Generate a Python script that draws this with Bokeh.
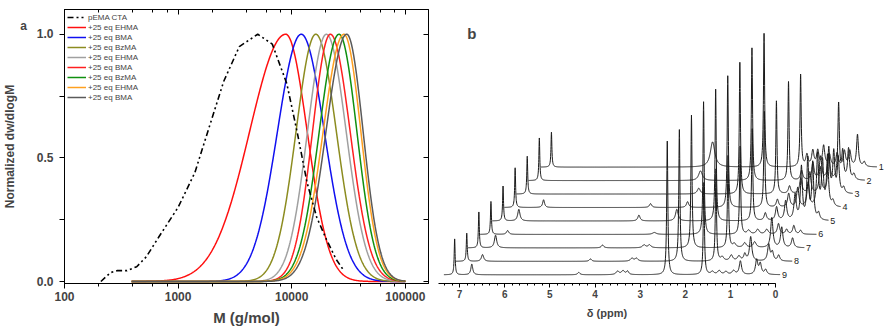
import numpy as np
from bokeh.plotting import figure
from bokeh.layouts import row
from bokeh.models import (Range1d, LogAxis, LinearAxis, FixedTicker, LogTicker,
                          SingleIntervalTicker, Legend, LegendItem, Label,
                          PrintfTickFormatter)
from bokeh.core.properties import value
from bokeh.embed import file_html
from bokeh.resources import INLINE

FONT = "Liberation Sans"
NBSP = "\u00a0"

# ---------------- (a) GPC traces ----------------
pema_label = "pEMA CTA"
pema_m = [209, 254, 292, 355, 432, 525, 676, 1000, 1403, 1807, 2523, 3459,
          5023, 6745, 9057, 11220, 13650, 16600, 20230, 24600, 28180]
pema_w = [0.0, 0.036, 0.044, 0.044, 0.06, 0.10, 0.18, 0.30, 0.44, 0.60, 0.81,
          0.95, 1.0, 0.96, 0.80, 0.60, 0.40, 0.26, 0.17, 0.09, 0.05]

block_labels = ["+25 eq EHMA", "+25 eq BMA", "+25 eq BzMA", "+25 eq EHMA",
                "+25 eq BMA", "+25 eq BzMA", "+25 eq EHMA", "+25 eq BMA"]
block_colors = ["#ff1010", "#1010f0", "#8c8c20", "#a0a0a0",
                "#ff2020", "#109010", "#ffa020", "#5a5a5a"]
block_peak_m = [8870, 12140, 16300, 20200, 21900, 26100, 28800, 30500]
block_hwhm_low = [0.375, 0.247, 0.205, 0.196, 0.185, 0.205, 0.215, 0.215]   # decades
block_hwhm_high = [0.222, 0.239, 0.213, 0.205, 0.205, 0.185, 0.176, 0.170]  # decades
block_m_range = (390, 100000)

# ---------------- (b) 1H NMR stack ----------------
spectrum_labels = ["1", "2", "3", "4", "5", "6", "7", "8", "9"]
solvent_ppm = 7.11
solvent_height = [36, 44, 39, 41, 36, 34, 37, 29, 37]
main_ppm = 2.40
main_height = [138, 137, 136, 136, 136, 137, 137, 136, 138]
second_ppm = 1.59
second_height = [95, 102, 96, 99, 95, 91, 95, 95, 95]

# (ppm, height, half width) of the remaining signals of each spectrum
peaks_1 = [(3.54, 26, 0.06), (1.45, 12, 0.03), (1.32, 16, 0.03), (1.21, 16, 0.03),
           (1.08, 21, 0.03), (0.95, 12, 0.03), (0.78, 14, 0.03), (0.62, 16, 0.03),
           (0.50, 16, 0.03), (0.33, 33, 0.025), (0.18, 5, 0.03)]
peaks_2 = [(3.54, 10, 0.05), (1.30, 10, 0.03), (1.05, 18, 0.03), (0.88, 24, 0.03),
           (0.70, 26, 0.03), (0.48, 78, 0.02), (0.39, 28, 0.025), (0.26, 32, 0.025),
           (0.14, 6, 0.03)]
peaks_3 = [(3.31, 6, 0.04), (1.30, 8, 0.03), (1.05, 16, 0.03), (0.85, 22, 0.03),
           (0.62, 27, 0.03), (0.43, 46, 0.025), (0.32, 42, 0.025), (0.22, 36, 0.025),
           (0.10, 6, 0.03)]
peaks_4 = [(6.48, 8, 0.025), (4.11, 4, 0.03), (3.29, 6, 0.03), (1.30, 8, 0.03),
           (1.05, 14, 0.03), (0.85, 20, 0.03), (0.62, 25, 0.03), (0.41, 54, 0.025),
           (0.30, 46, 0.025), (0.19, 52, 0.025), (0.07, 6, 0.03)]
peaks_5 = [(6.76, 12, 0.03), (4.10, 6, 0.03), (3.26, 12, 0.035), (1.30, 8, 0.03),
           (1.05, 14, 0.03), (0.85, 20, 0.03), (0.64, 26, 0.03), (0.50, 54, 0.025),
           (0.36, 62, 0.025), (0.25, 58, 0.025), (0.12, 7, 0.03)]
peaks_6 = [(6.74, 4, 0.03), (3.49, 2, 0.05), (1.40, 4, 0.04), (1.20, 5, 0.04),
           (1.00, 5, 0.04), (0.74, 11, 0.03), (0.56, 5, 0.03), (0.40, 9, 0.03),
           (0.25, 4, 0.03)]
peaks_7 = [(6.74, 13, 0.03), (4.37, 3, 0.03), (3.45, 3, 0.04), (3.33, 3, 0.04),
           (1.45, 4, 0.04), (1.22, 5, 0.04), (1.00, 6, 0.04), (0.62, 31, 0.03),
           (0.40, 21, 0.03), (0.16, 10, 0.03)]
peaks_8 = [(6.76, 7, 0.03), (4.37, 2.5, 0.03), (3.45, 3, 0.04), (3.35, 3, 0.04),
           (1.45, 4, 0.04), (1.25, 6, 0.04), (1.08, 5, 0.04), (0.95, 7, 0.03),
           (0.82, 25, 0.03), (0.42, 17, 0.03), (0.34, 9, 0.03), (0.20, 6, 0.03)]
peaks_9 = [(6.73, 11, 0.025), (4.36, 2.5, 0.03), (3.50, 3.5, 0.04), (3.38, 4, 0.04),
           (3.28, 3.5, 0.03), (1.40, 3, 0.04), (1.25, 4, 0.04), (1.10, 3, 0.04),
           (0.93, 4, 0.04), (0.78, 14, 0.03), (0.42, 15, 0.03), (0.34, 11, 0.03),
           (0.22, 5, 0.03)]
spectrum_ppm_range = (-0.10, 7.35)

# ---------------------------------------------------------------- panel a
pa = figure(width=435, height=330, x_axis_type="log",
            x_range=Range1d(100, 160000), y_range=Range1d(-0.008, 1.10),
            output_backend="svg", toolbar_location=None,
            min_border_left=52, min_border_right=7, min_border_top=9,
            min_border_bottom=46)
pa.grid.visible = False
pa.outline_line_color = "black"
pa.background_fill_color = "white"
pa.border_fill_color = "white"

# left axis: tick marks come from the minor ticks, the panel letter "a" rides
# on an extra (mark-less) major tick near the top of the margin
left = pa.left[0]
letter_y = 1.035
left.ticker = FixedTicker(ticks=[0.0, 0.5, 1.0, letter_y],
                          minor_ticks=[0.0, 0.25, 0.5, 0.75, 1.0])
left.formatter = PrintfTickFormatter(format="%.1f")
left.major_label_overrides = {letter_y: "a" + NBSP * 8}
left.axis_label = "Normalized dw/dlogM"
left.axis_label_text_font = FONT
left.axis_label_text_font_style = "bold"
left.axis_label_text_font_size = "12px"
left.axis_label_standoff = 0
left.major_label_text_font = FONT
left.major_label_text_font_style = "bold"
left.major_label_text_font_size = "12px"
left.major_label_standoff = 6
left.major_tick_out = 0
left.major_tick_in = 0
left.minor_tick_out = 5
left.minor_tick_in = 0

bottom = pa.below[0]
bottom.ticker = LogTicker()
bottom.formatter = PrintfTickFormatter(format="%d")
bottom.axis_label = "M (g/mol)"
bottom.axis_label_text_font = FONT
bottom.axis_label_text_font_style = "bold"
bottom.axis_label_text_font_size = "15px"
bottom.axis_label_standoff = 5
bottom.major_label_text_font = FONT
bottom.major_label_text_font_style = "bold"
bottom.major_label_text_font_size = "12px"
bottom.major_label_standoff = 3
bottom.major_tick_out = 5
bottom.major_tick_in = 0
bottom.minor_tick_out = 3
bottom.minor_tick_in = 0

# mirrored frame axes: ticks pointing inwards, no labels
top = LogAxis(major_tick_in=5, major_tick_out=0, minor_tick_in=3, minor_tick_out=0,
              major_label_text_font_size="1px", major_label_text_alpha=0,
              major_label_standoff=0)
pa.add_layout(top, "above")
right = LinearAxis(ticker=FixedTicker(ticks=[0.0, 0.25, 0.5, 0.75, 1.0]),
                   major_tick_in=5, major_tick_out=0, minor_tick_in=0, minor_tick_out=0,
                   major_label_text_font_size="1px", major_label_text_alpha=0,
                   major_label_standoff=0)
pa.add_layout(right, "right")

items = []
block_renderers = []
logm = np.linspace(np.log10(block_m_range[0]), np.log10(block_m_range[1]), 500)
for lab, col, mp, hl, hh in zip(block_labels, block_colors, block_peak_m,
                                block_hwhm_low, block_hwhm_high):
    lp = np.log10(mp)
    hw = np.where(logm < lp, hl, hh)
    w = np.exp(-np.log(2) * ((logm - lp) / hw) ** 2)
    r = pa.line(10 ** logm, w, line_color=col, line_width=1.5)
    block_renderers.append((lab, r))

r_pema = pa.line(pema_m, pema_w, line_color="black", line_width=1.6,
                 line_dash="6 3 2 3 2 3")
items.append(LegendItem(label=pema_label, renderers=[r_pema]))
for lab, r in block_renderers:
    items.append(LegendItem(label=lab, renderers=[r]))

legend = Legend(items=items, location="top_left", margin=0, padding=3, spacing=0,
                glyph_height=10, glyph_width=19, label_height=10,
                label_standoff=2, label_text_font=FONT, label_text_font_size="8px",
                background_fill_alpha=0, border_line_alpha=0)
pa.add_layout(legend)

# ---------------------------------------------------------------- panel b
pb = figure(width=454, height=330, x_range=Range1d(7.49, -2.523),
            y_range=Range1d(0, 283), y_axis_location=None,
            output_backend="svg", toolbar_location=None,
            min_border_left=2, min_border_right=0, min_border_top=0,
            min_border_bottom=47)
pb.grid.visible = False
pb.outline_line_color = None
pb.background_fill_color = "white"
pb.border_fill_color = "white"

xb = pb.below[0]
xb.bounds = (0, 7.47)
xb.ticker = SingleIntervalTicker(interval=1, num_minor_ticks=6)
# trailing no-break spaces move the title under the drawn part of the axis
xb.axis_label = "δ (ppm)" + NBSP * 37
xb.axis_label_text_font = FONT
xb.axis_label_text_font_style = "bold"
xb.axis_label_text_font_size = "11px"
xb.axis_label_standoff = 6
xb.major_label_text_font = FONT
xb.major_label_text_font_style = "bold"
xb.major_label_text_font_size = "10px"
xb.major_label_standoff = 2
xb.major_tick_out = 4
xb.major_tick_in = 0
xb.minor_tick_out = 2
xb.minor_tick_in = 0

stack_dx = 0.268   # ppm shift between neighbouring spectra
stack_dy = 13.9    # vertical offset between neighbouring spectra
base0 = 9.0

all_peaks = [peaks_1, peaks_2, peaks_3, peaks_4, peaks_5, peaks_6, peaks_7, peaks_8, peaks_9]
grid = np.arange(spectrum_ppm_range[0], spectrum_ppm_range[1], 0.004)
for i, lab in enumerate(spectrum_labels):
    k = len(spectrum_labels) - 1 - i          # 0 for the lowest spectrum
    sig = [(solvent_ppm, solvent_height[i], 0.012),
           (main_ppm, main_height[i], 0.015),
           (second_ppm, second_height[i], 0.015)] + all_peaks[i]
    pts = [grid]
    for p0, h, w in sig:
        pts.append(p0 + w * np.array([-2, -1, -0.5, -0.25, 0, 0.25, 0.5, 1, 2]))
    ppm = np.unique(np.concatenate(pts))
    ppm = ppm[(ppm >= spectrum_ppm_range[0]) & (ppm <= spectrum_ppm_range[1])]
    inten = np.zeros_like(ppm)
    for p0, h, w in sig:
        inten += h / (1 + ((ppm - p0) / w) ** 2)
    x = ppm - k * stack_dx
    y = base0 + k * stack_dy + inten
    pb.line(x, y, line_color="#1a1a1a", line_width=1)
    pb.text(x=[spectrum_ppm_range[0] - 0.04 - k * stack_dx], y=[base0 + k * stack_dy],
            text=[lab], text_font=value(FONT), text_font_size="9px",
            text_align="left", text_baseline="middle", text_color="#1a1a1a")

pb.add_layout(Label(x=6.73, y=258, text="b", text_font=FONT,
                    text_font_style="bold", text_font_size="15px",
                    text_align="center", text_baseline="middle"))

layout = row(pa, pb)
open("out.html", "w").write(file_html(layout, INLINE))
